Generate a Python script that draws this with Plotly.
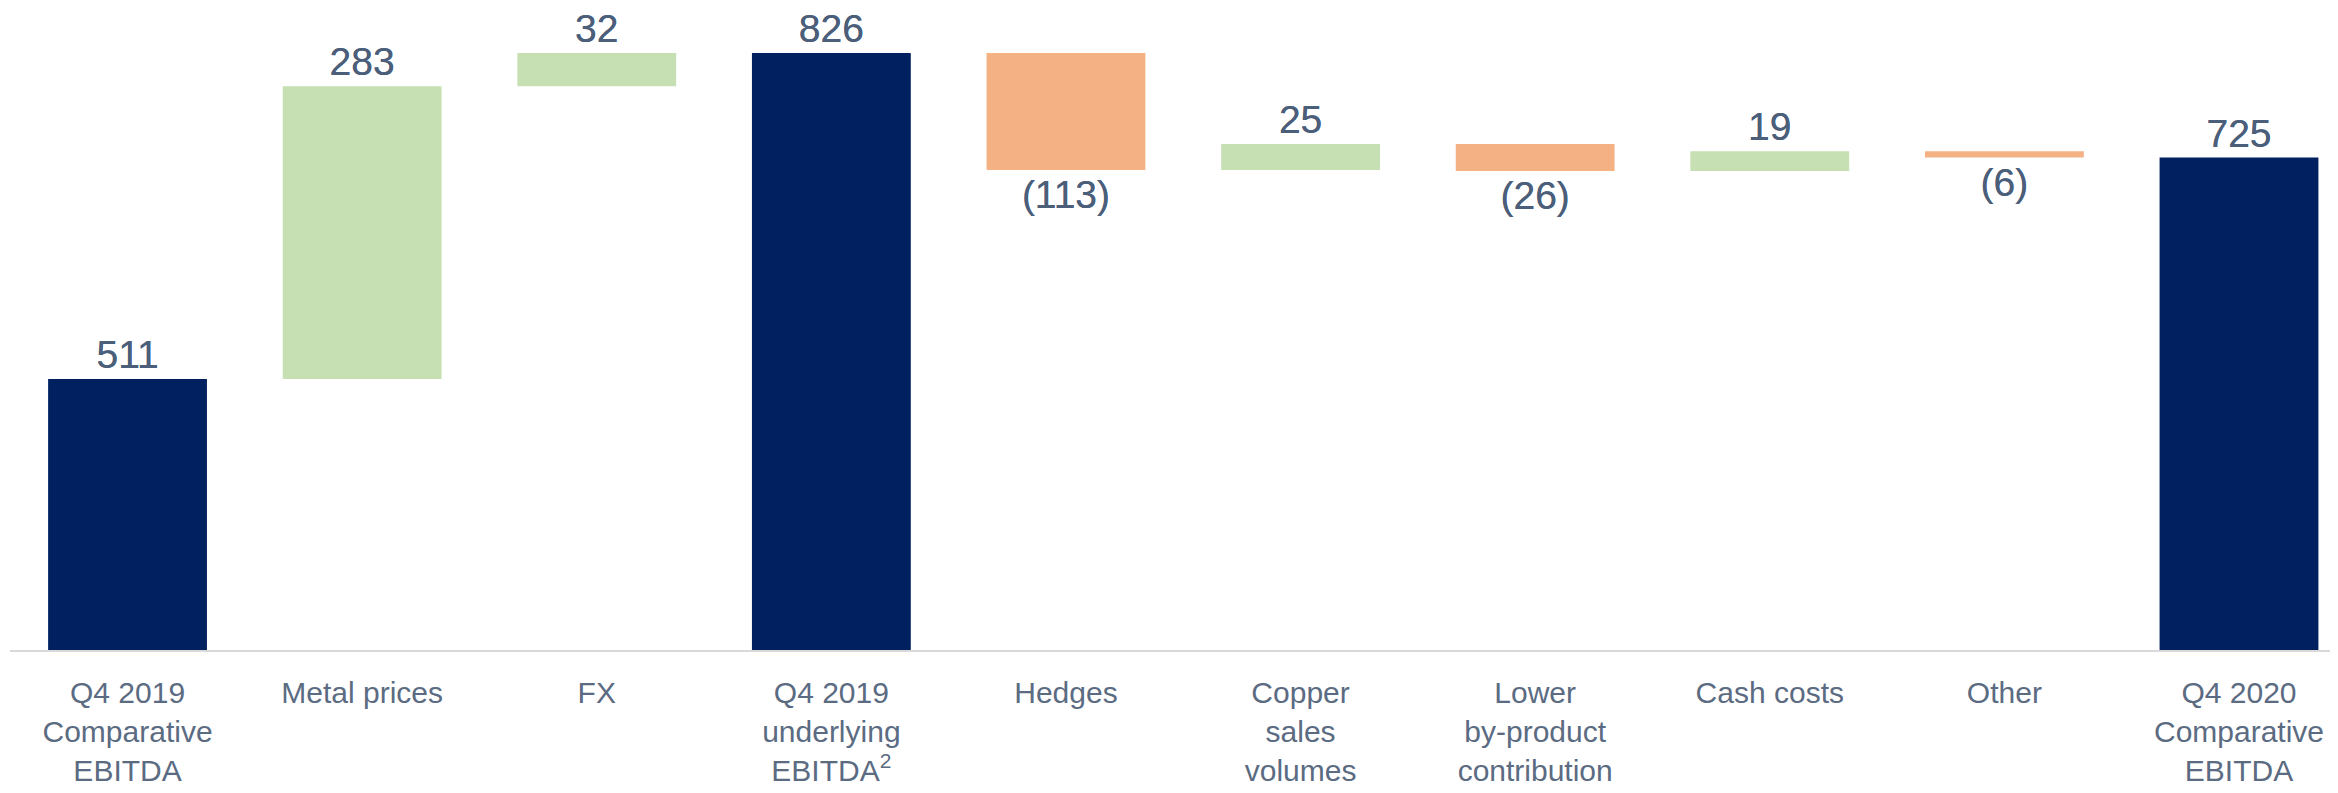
import plotly.graph_objects as go

categories = [
    "Q4 2019<br>Comparative<br>EBITDA",
    "Metal prices",
    "FX",
    "Q4 2019<br>underlying<br>EBITDA<sup>2</sup>",
    "Hedges",
    "Copper<br>sales<br>volumes",
    "Lower<br>by-product<br>contribution",
    "Cash costs",
    "Other",
    "Q4 2020<br>Comparative<br>EBITDA",
]
measures = ["absolute", "relative", "relative", "total", "relative",
            "relative", "relative", "relative", "relative", "total"]
values = [511, 283, 32, 0, -113, 25, -26, 19, -6, 0]

# value labels (totals computed from running sum)
labels = []
running = 0
for m, v in zip(measures, values):
    if m == "absolute":
        running = v
        labels.append(f"{v}")
    elif m == "total":
        labels.append(f"{running}")
    else:
        running += v
        labels.append(f"({abs(v)})" if v < 0 else f"{v}")

xs = list(range(len(categories)))

fig = go.Figure(go.Waterfall(
    x=xs,
    y=values,
    measure=measures,
    text=labels,
    textposition="outside",
    textfont=dict(family="Liberation Sans, Arial, sans-serif", size=39, color="#4b5f7b",
                  shadow="0px 0px 0.6px #4b5f7b"),
    increasing=dict(marker=dict(color="#c6e0b4", line=dict(width=0))),
    decreasing=dict(marker=dict(color="#f4b183", line=dict(width=0))),
    totals=dict(marker=dict(color="#002060", line=dict(width=0))),
    connector=dict(visible=False),
    width=0.677,
    cliponaxis=False,
    hoverinfo="skip",
))

fig.update_layout(
    width=2330,
    height=785,
    margin=dict(l=2, r=0, t=0, b=143, autoexpand=False),
    paper_bgcolor="white",
    plot_bgcolor="white",
    showlegend=False,
    font=dict(family="Liberation Sans, Arial, sans-serif", color="#5b6b82"),
    xaxis=dict(
        tickmode="array",
        tickvals=xs,
        ticktext=categories,
        range=[-0.501, 9.422],
        showgrid=False,
        zeroline=False,
        showline=True,
        linecolor="#d9d9d9",
        linewidth=2,
        ticks="",
        tickfont=dict(size=30, color="#5b6b82"),
        ticklabelstandoff=15,
        automargin=False,
    ),
    yaxis=dict(
        range=[249.1, 869.5],
        visible=False,
        showgrid=False,
        zeroline=False,
    ),
)

fig.write_html("out.html")
